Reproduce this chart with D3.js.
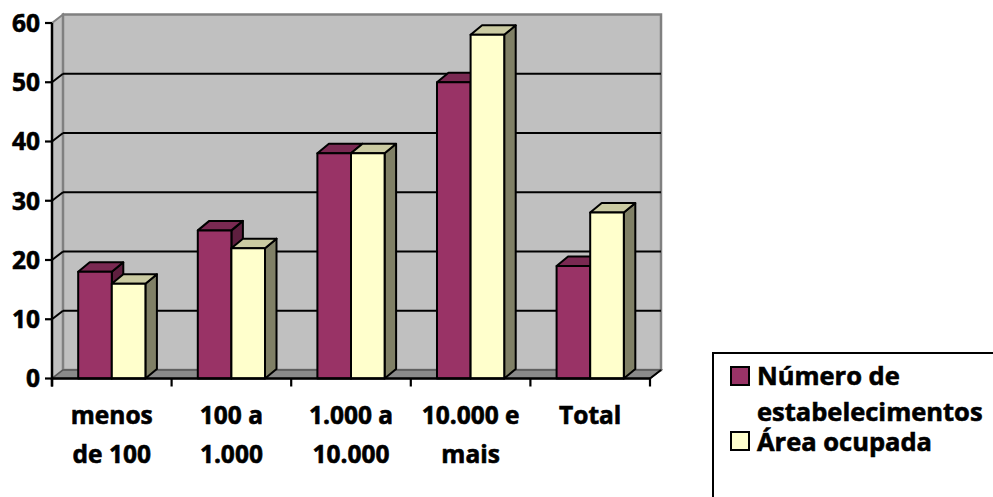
<!DOCTYPE html>
<html><head><meta charset="utf-8">
<script src="https://cdn.jsdelivr.net/npm/d3@7"></script>
<style>body{margin:0;background:#fff}svg{display:block}text{font-family:"Open Sans",sans-serif;font-weight:700;fill:#000;stroke:#000;stroke-width:0.6px}</style>
</head><body><svg id="c" width="993" height="497"></svg>
<script>
const categories = [["menos","de 100"],["100 a","1.000"],["1.000 a","10.000"],["10.000 e","mais"],["Total"]];
const seriesNames = ["Número de estabelecimentos","Área ocupada"];
const estabelecimentos = [18, 25, 38, 50, 19];
const areaOcupada = [16, 22, 38, 58, 28];
const yTicks = [0,10,20,30,40,50,60];

const svg = d3.select("#c");
const DX = 11, DY = -8.5;
const x0 = d3.scaleBand().domain(d3.range(categories.length)).range([52, 650]).paddingInner(0).paddingOuter(0);
const bw = x0.bandwidth();
const x1 = d3.scaleBand().domain([0,1]).range([bw*0.219, bw*0.781]).padding(0);
const y = d3.scaleLinear().domain([0,60]).range([378.5, 23]);
const L = 52, R = 650;

const poly = pts => pts.map(p=>p.join(",")).join(" ");
// left wall
svg.append("polygon").attr("points", poly([[L,y(0)],[L,y(60)],[L+DX,y(60)+DY],[L+DX,y(0)+DY]]))
  .attr("fill","#c0c0c0").attr("stroke","#808080").attr("stroke-width",2);
// back wall
svg.append("polygon").attr("points", poly([[L+DX,y(0)+DY],[L+DX,y(60)+DY],[R+DX,y(60)+DY],[R+DX,y(0)+DY]]))
  .attr("fill","#c0c0c0").attr("stroke","#808080").attr("stroke-width",2.5);
// floor
svg.append("polygon").attr("points", poly([[L,y(0)],[L+DX,y(0)+DY],[R+DX,y(0)+DY],[R,y(0)]]))
  .attr("fill","#8a8a8a").attr("stroke","#555").attr("stroke-width",1.5);
// gridlines
yTicks.filter(t=>t>0 && t<60).forEach(t=>{
  svg.append("line").attr("x1",L+DX).attr("x2",R+DX).attr("y1",y(t)+DY).attr("y2",y(t)+DY).attr("stroke","#000").attr("stroke-width",2.2);
  svg.append("line").attr("x1",L).attr("x2",L+DX).attr("y1",y(t)).attr("y2",y(t)+DY).attr("stroke","#000").attr("stroke-width",2);
});

// bars
const styles = [
  {front:"#993366", top:"#7a2952", side:"#5e1f3f"},
  {front:"#ffffcc", top:"#cbcba2", side:"#808066"}
];
const data = [estabelecimentos, areaOcupada];
const BDX = 11.5, BDY = -9.5;
categories.forEach((c,i)=>{
  [0,1].forEach(s=>{
    const v = data[s][i];
    const xa = x0(i) + x1(s), xb = xa + x1.bandwidth();
    const yt = y(v), yb = y(0);
    const g = svg.append("g").attr("stroke","#000").attr("stroke-width",2).attr("stroke-linejoin","round");
    g.append("polygon").attr("points", poly([[xb,yb],[xb,yt],[xb+BDX,yt+BDY],[xb+BDX,yb+BDY]])).attr("fill",styles[s].side);
    g.append("polygon").attr("points", poly([[xa,yt],[xb,yt],[xb+BDX,yt+BDY],[xa+BDX,yt+BDY]])).attr("fill",styles[s].top);
    g.append("rect").attr("x",xa).attr("y",yt).attr("width",xb-xa).attr("height",yb-yt).attr("fill",styles[s].front);
  });
});

// axes
svg.append("line").attr("x1",L).attr("x2",L).attr("y1",y(60)).attr("y2",y(0)+8).attr("stroke","#000").attr("stroke-width",2.5);
svg.append("line").attr("x1",L).attr("x2",R).attr("y1",y(0)).attr("y2",y(0)).attr("stroke","#000").attr("stroke-width",2.5);
svg.append("line").attr("x1",R).attr("x2",R+DX).attr("y1",y(0)).attr("y2",y(0)+DY).attr("stroke","#000").attr("stroke-width",2);
yTicks.forEach(t=>{
  svg.append("line").attr("x1",L-7).attr("x2",L).attr("y1",y(t)).attr("y2",y(t)).attr("stroke","#000").attr("stroke-width",2.2);
  svg.append("text").attr("x",40).attr("y",y(t)).attr("dy","0.36em").attr("text-anchor","end").attr("font-size",24.5).text(t);
});
d3.range(categories.length+1).forEach(k=>{
  const xx = L + k*bw;
  svg.append("line").attr("x1",xx).attr("x2",xx).attr("y1",y(0)).attr("y2",y(0)+8).attr("stroke","#000").attr("stroke-width",2.2);
});
categories.forEach((c,i)=>{
  const cx = x0(i) + bw/2;
  c.forEach((ln,j)=>{
    svg.append("text").attr("x",cx).attr("y",424 + j*39).attr("text-anchor","middle").attr("font-size",24.5).text(ln);
  });
});

// legend
svg.append("rect").attr("x",713).attr("y",353).attr("width",300).attr("height",200).attr("fill","#fff").attr("stroke","#000").attr("stroke-width",2);
const legendRows = [{s:0, lines:["Número de","estabelecimentos"], y:385, sq:367},{s:1, lines:["Área ocupada"], y:451, sq:432}];
legendRows.forEach(r=>{
  svg.append("rect").attr("x",731).attr("y",r.sq).attr("width",18).attr("height",18).attr("fill",styles[r.s].front).attr("stroke","#000").attr("stroke-width",2);
  r.lines.forEach((ln,j)=>{
    svg.append("text").attr("x",757).attr("y",r.y + j*36).attr("font-size",25.5).text(ln);
  });
});
</script></body></html>
